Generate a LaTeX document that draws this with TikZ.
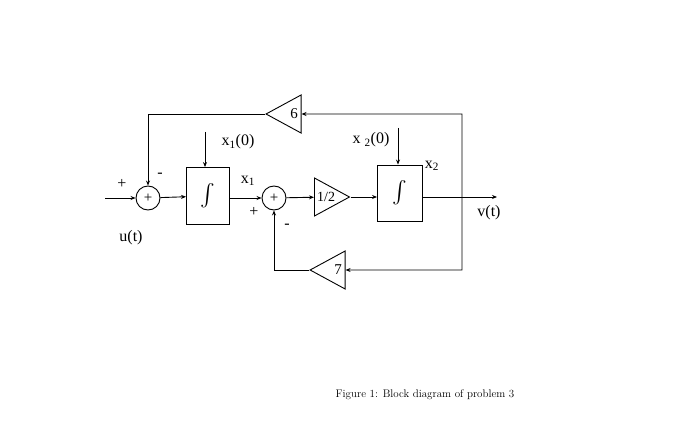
\documentclass[tikz,border=0pt]{standalone}
\usepackage{fontspec}
\newfontfamily\tnr{Liberation Serif}
\usetikzlibrary{shapes.geometric,arrows.meta}
\tikzset{
  wire/.style={line width=0.9pt},
  sig/.style={wire,-{Stealth[length=5pt,width=4pt]}},
  summer/.style={circle,draw,line width=0.9pt,minimum size=24pt,inner sep=0pt,font=\tnr\fontsize{15}{15}\selectfont},
  intbox/.style={draw,line width=0.9pt,minimum width=43pt,minimum height=57pt,inner sep=0pt},
  gain/.style={isosceles triangle,isosceles triangle stretches,draw,line width=0.9pt,inner sep=0pt,minimum width=38pt,minimum height=35pt,font=\tnr\fontsize{15}{15}\selectfont},
  lbl/.style={font=\tnr\fontsize{16}{16}\selectfont,inner sep=0pt}
}
\begin{document}
\begin{tikzpicture}[x=1pt,y=-1pt]
\useasboundingbox (0,0) rectangle (696,425);
% forward path
\coordinate (in) at (105,198);
\node[summer] (sum1) at (148,198) {+};
\node[intbox] (int1) at (208,196) {\scalebox{2.2}{$\int$}};
\node[summer] (sum2) at (274,198) {+};
\node[gain,anchor=west,font=\tnr\fontsize{14}{14}\selectfont] (half) at (314,197) {1/2\hspace{6pt}};
\node[intbox,minimum height=56pt,minimum width=45pt] (int2) at (400,193) {\scalebox{2.2}{$\int$}};
\coordinate (br) at (462,197);
\coordinate (out) at (497,197);
\draw[sig] (in) -- (sum1);
\draw[sig] (sum1) -- (int1);
\draw[sig] (int1.east |- sum2) -- (sum2);
\draw[sig] (sum2) -- (half);
\draw[sig] (half.east) -- (int2.west |- half.east);
\draw[sig] (int2.east |- br) -- (out);
% initial conditions
\coordinate (ic1) at (205,132);
\coordinate (ic2) at (398,128);
\draw[sig] (ic1) -- (ic1 |- int1.north);
\draw[sig] (ic2) -- (ic2 |- int2.north);
% feedback loops
\node[gain,shape border rotate=180] (g6) at (290,114) {\hspace{8pt}6};
\node[gain,shape border rotate=180] (g7) at (334,270) {\hspace{8pt}7};
\coordinate (tr) at (462,114);
\coordinate (brr) at (462,270);
\draw[sig] (br) -- (tr) -- (g6.east);
\draw[sig] (g6.apex) -| (sum1.north);
\draw[sig] (br) -- (brr) -- (g7.east);
\draw[sig] (g7.apex) -| (sum2.south);
% labels
\node[lbl] (p1) at (122,184) {+};
\node[lbl] (m1) at (160,175) {-};
\node[lbl] (p2) at (254,212) {+};
\node[lbl] (m2) at (287,226) {-};
\node[lbl] (u) at (131,238) {u(t)};
\node[lbl] (v) at (489,213) {v(t)};
\node[lbl] (x1) at (248,181) {x\textsubscript{1}};
\node[lbl] (x10) at (238,142) {x\textsubscript{1}(0)};
\node[lbl] (x20) at (371,140) {x \textsubscript{2}(0)};
\node[lbl] (x2) at (432,166) {x\textsubscript{2}};
\node[font=\fontsize{11}{11}\selectfont] (cap) at (425,395) {Figure 1: Block diagram of problem 3};
\end{tikzpicture}
\end{document}
